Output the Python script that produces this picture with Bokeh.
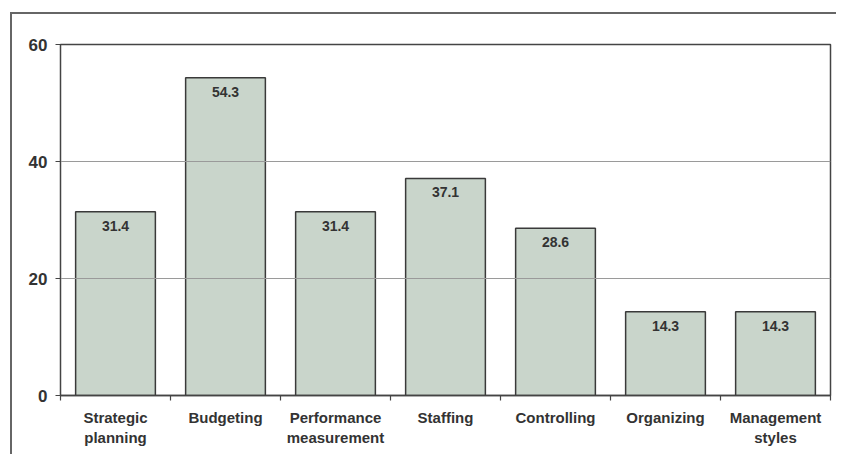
from bokeh.plotting import figure
from bokeh.models import Range1d, LinearAxis, FixedTicker, ColumnDataSource
from bokeh.embed import file_html
from bokeh.resources import INLINE
from bokeh.core.properties import value

categories = ["Strategic planning", "Budgeting", "Performance measurement", "Staffing",
              "Controlling", "Organizing", "Management styles"]
tick_labels = ["Strategic\nplanning", "Budgeting", "Performance\nmeasurement", "Staffing",
               "Controlling", "Organizing", "Management\nstyles"]
values = [31.4, 54.3, 31.4, 37.1, 28.6, 14.3, 14.3]
y_ticks = [0, 20, 40, 60]

xs = [i + 0.5 for i in range(len(categories))]
src = ColumnDataSource(dict(x=xs, top=values, label=[f"{v:.1f}" for v in values]))

p = figure(width=826, height=442, output_backend="svg", toolbar_location=None,
           x_range=Range1d(0, len(categories)), y_range=Range1d(0, 60),
           x_axis_type=None, y_axis_type=None,
           min_border_left=48, min_border_top=30, min_border_right=8, min_border_bottom=61)
p.margin = (12, 0, 0, 10)
p.styles = {"border-left": "2px solid #666666", "border-top": "2px solid #666666"}

p.vbar(x="x", top="top", bottom=0, width=0.725, source=src,
       fill_color="#c9d5cb", line_color="#3a3a3a", line_width=1.5)
p.text(x="x", y="top", text="label", source=src, text_align="center", text_baseline="top",
       y_offset=9, text_font=value("Liberation Sans"), text_font_style="bold",
       text_font_size="14px", text_color="#333333")

yaxis = LinearAxis(ticker=FixedTicker(ticks=y_ticks))
yaxis.axis_line_color = "#444444"
yaxis.major_tick_in = 0
yaxis.major_tick_out = 5
yaxis.major_tick_line_color = "#444444"
yaxis.minor_tick_line_color = None
yaxis.major_label_text_font = "Liberation Sans"
yaxis.major_label_text_font_size = "17px"
yaxis.major_label_text_font_style = "bold"
yaxis.major_label_text_color = "#333333"
yaxis.major_label_standoff = 8
p.add_layout(yaxis, "left")

xaxis = LinearAxis(ticker=FixedTicker(ticks=xs, minor_ticks=list(range(len(categories) + 1))))
xaxis.major_label_overrides = {x: t for x, t in zip(xs, tick_labels)}
xaxis.axis_line_color = "#444444"
xaxis.axis_line_width = 1.5
xaxis.major_tick_line_color = None
xaxis.minor_tick_in = 0
xaxis.minor_tick_out = 5
xaxis.minor_tick_line_color = "#444444"
xaxis.minor_tick_line_width = 1.2
xaxis.major_label_text_font = "Liberation Sans"
xaxis.major_label_text_font_size = "15px"
xaxis.major_label_text_font_style = "bold"
xaxis.major_label_text_color = "#333333"
xaxis.major_label_text_line_height = 1.2
xaxis.major_label_standoff = 7
p.add_layout(xaxis, "below")

p.xgrid.visible = False
p.ygrid.visible = False
for yv in y_ticks[1:-1]:
    p.line(x=[0, len(categories)], y=[yv, yv], line_color="#9a9a9a", line_width=1)

p.outline_line_color = "#444444"
p.outline_line_width = 1.5
p.background_fill_color = "white"
p.border_fill_color = "white"

open("out.html", "w").write(file_html(p, INLINE))
